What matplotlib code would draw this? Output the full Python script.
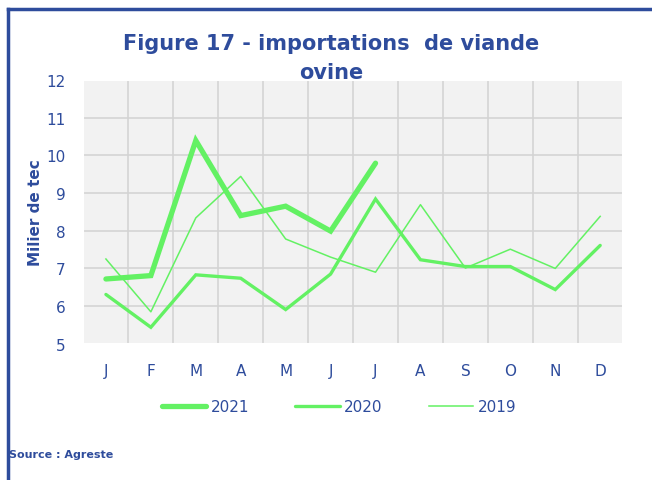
"""
Figure 17 - importations de viande ovine (Agreste).
Three years of monthly imports, one line per year, 2021 stops in July.
"""

import matplotlib
matplotlib.use("Agg")
import matplotlib.pyplot as plt
from matplotlib.lines import Line2D

# --- data --------------------------------------------------------------------
months = ["J", "F", "M", "A", "M", "J", "J", "A", "S", "O", "N", "D"]
imp_2021 = [6.72, 6.81, 10.39, 8.40, 8.65, 7.99, 9.79]
imp_2020 = [6.31, 5.44, 6.83, 6.74, 5.91, 6.85, 8.84, 7.23, 7.05, 7.05, 6.44, 7.61]
imp_2019 = [7.25, 5.85, 8.34, 9.44, 7.78, 7.30, 6.90, 8.69, 7.01, 7.51, 7.00, 8.38]

BLUE = "#2E4C9C"
GREEN = "#63F163"

# --- figure ------------------------------------------------------------------
fig = plt.figure(figsize=(6.52, 4.81), dpi=100)
ax = fig.add_axes([0.128, 0.283, 0.827, 0.549])
ax.set_facecolor("#F2F2F2")

x = list(range(len(months)))
ax.plot(x[:len(imp_2021)], imp_2021, color=GREEN, lw=3.8, label="2021",
        solid_capstyle="round", solid_joinstyle="miter")
ax.plot(x, imp_2020, color=GREEN, lw=2.4, label="2020",
        solid_capstyle="round", solid_joinstyle="miter")
ax.plot(x, imp_2019, color=GREEN, lw=1.1, label="2019")

ax.set_xlim(-0.5, 11.5)
ax.set_ylim(5, 12)
ax.set_xticks(x)
ax.set_xticklabels(months)
ax.set_xticks([i + 0.5 for i in x[:-1]], minor=True)
ax.set_yticks(range(5, 13))

# grid: horizontal on integers, vertical between months
ax.grid(axis="y", which="major", color="#D4D4D4", lw=1.2)
ax.grid(axis="x", which="minor", color="#D4D4D4", lw=1.2)
ax.set_axisbelow(True)
for s in ax.spines.values():
    s.set_color("white")
    s.set_linewidth(1.5)

ax.tick_params(axis="both", which="both", length=0, labelcolor=BLUE,
               labelsize=11)
ax.tick_params(axis="x", pad=14)
ax.tick_params(axis="y", pad=13)
ax.set_ylabel("Milier de tec", color=BLUE, fontsize=11, fontweight="bold",
              labelpad=2)

# title (two lines, as in the source)
fig.text(0.508, 0.908, "Figure 17 - importations  de viande", ha="center",
         va="center", color=BLUE, fontsize=15, fontweight="bold",
         family="DejaVu Sans")
fig.text(0.508, 0.848, "ovine", ha="center", va="center", color=BLUE,
         fontsize=15, fontweight="bold", family="DejaVu Sans")

leg = fig.legend(loc="center", bbox_to_anchor=(0.52, 0.152), ncol=3,
                 frameon=False, fontsize=11, handlelength=2.9,
                 columnspacing=3.0, handletextpad=0.3)
for t in leg.get_texts():
    t.set_color(BLUE)

fig.text(0.014, 0.054, "Source : Agreste", color=BLUE, fontsize=8,
         fontweight="bold", family=["Liberation Sans Narrow", "DejaVu Sans"],
         va="center")

# dark blue frame (top and left edges)
fig.add_artist(Line2D([0.013, 1.0], [0.979, 0.979], color=BLUE, lw=2.5,
                      transform=fig.transFigure))
fig.add_artist(Line2D([0.013, 0.013], [0.0, 0.979], color=BLUE, lw=2.5,
                      transform=fig.transFigure))

fig.savefig("out.png", dpi=100)
